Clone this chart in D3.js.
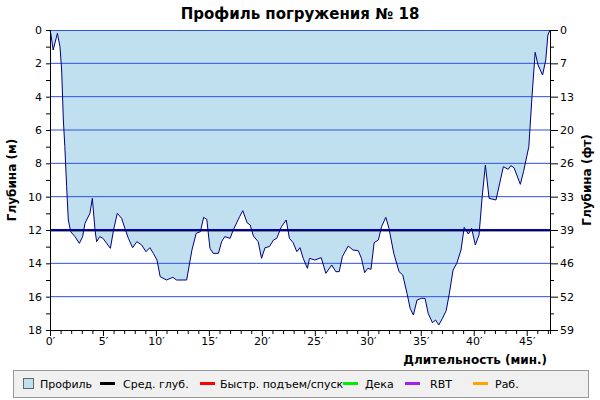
<!DOCTYPE html><html><head><meta charset="utf-8"><script src="https://cdn.jsdelivr.net/npm/d3@7"></script>
<style>body{margin:0;background:#fff}text{font-family:"DejaVu Sans",sans-serif}</style></head><body><svg id="c" width="600" height="400"></svg><script>
const times=[0,0.07,0.3,0.7,0.94,1.1,1.26,1.4,1.57,1.73,1.95,2.36,2.77,3.08,3.3,3.77,4.0,4.25,4.4,4.7,5.0,5.35,5.7,6.0,6.35,6.76,7.07,7.4,7.8,8.2,8.65,9.06,9.43,9.75,10.1,10.4,11.0,11.6,11.95,12.9,13.4,13.8,14.2,14.5,14.8,15.1,15.4,15.9,16.2,16.5,17.0,17.3,17.9,18.2,18.6,18.9,19.2,19.65,19.97,20.3,20.7,21.1,21.4,21.85,22.3,22.6,22.95,23.3,23.6,23.9,24.3,24.5,25.0,25.6,26.04,26.6,26.98,27.3,27.6,28.15,28.6,29.1,29.4,29.7,30.0,30.3,30.6,31.0,31.3,31.7,32.0,32.45,32.95,33.3,33.7,34.0,34.3,34.65,35.06,35.4,35.7,36.1,36.4,36.7,37.05,37.4,37.7,38.05,38.4,38.8,39.1,39.5,39.8,40.15,40.5,40.8,41.1,41.45,42.1,42.8,43.25,43.5,43.8,44.4,44.7,45.2,45.5,45.8,46.07,46.5,46.8,47.0,47.2];
const depths=[0,0.2,1.2,0.2,1.0,2.4,5.4,7,9.4,11.4,12.1,12.4,12.8,12.4,11.6,11,10.1,12,12.7,12.4,12.5,12.8,13.1,12,11,11.3,11.9,12.5,13.06,12.7,12.9,13.3,13.06,13.4,13.8,14.8,15,14.84,15,15,13.2,12.2,12.1,11.24,11.36,13.1,13.4,13.4,12.7,12.4,12.5,12,11.2,10.84,11.56,11.7,12.36,12.7,13.7,13.06,13,12.6,12.5,11.8,11.4,12.5,12.76,13.3,13.06,13.7,14.3,13.7,13.8,13.66,14.6,14.1,14.5,14.5,13.6,12.96,13.2,13.24,13.7,14.56,14.3,14.36,12.76,12.6,11.8,11.24,11.9,13.4,14.5,14.7,15.8,16.7,17.1,16.2,16.1,16.1,17,17.56,17.4,17.7,17.3,16.84,15.8,14.4,14,13.2,11.84,12.24,11.9,12.9,12.3,10,8.1,10.1,10.2,8.2,8.36,8.14,8.26,9.26,8.5,7.0,4.0,1.34,2.1,2.7,1.8,0.3,0];
const avgDepth=12;
const xTicks=[0,5,10,15,20,25,30,35,40,45];
const yTicks=[0,2,4,6,8,10,12,14,16,18];
const legendItems=[["Профиль","#c0e0f0","box"],["Сред. глуб.","#000","line"],["Быстр. подъем/спуск","#ff0000","line"],["Дека","#00ee00","line"],["RBT","#a020f0","line"],["Раб.","#ffa500","line"]];
const svg=d3.select("#c");
const L=50,R=550,T=30,B=330;
const x=d3.scaleLinear().domain([0,47.2]).range([L,R]);
const y=d3.scaleLinear().domain([0,18]).range([T,B]);
const pts=times.map((t,i)=>[t,depths[i]]);
svg.append("path").datum(pts).attr("fill","#c0e0f0").attr("d",d3.area().x(d=>x(d[0])).y0(y(0)).y1(d=>y(d[1])));
yTicks.forEach(v=>{if(v>0&&v<18)svg.append("line").attr("x1",L).attr("x2",R).attr("y1",y(v)).attr("y2",y(v)).attr("stroke","#3050e0").attr("stroke-width",1);});
svg.append("line").attr("x1",L).attr("x2",R).attr("y1",y(0)+0.5).attr("y2",y(0)+0.5).attr("stroke","#3050e0");
svg.append("line").attr("x1",L).attr("x2",R).attr("y1",y(avgDepth)).attr("y2",y(avgDepth)).attr("stroke","#0000cc").attr("stroke-width",2);
svg.append("line").attr("x1",L).attr("x2",R).attr("y1",y(avgDepth)+1).attr("y2",y(avgDepth)+1).attr("stroke","#000").attr("stroke-width",0.8);
svg.append("path").datum(pts).attr("fill","none").attr("stroke","#000080").attr("stroke-width",1).attr("d",d3.line().x(d=>x(d[0])).y(d=>y(d[1])));
const gl=svg.append("g").attr("transform",`translate(${L},0)`).call(d3.axisLeft(y).tickValues(d3.range(0,19,1)).tickSize(4).tickFormat(d=>yTicks.includes(d)?d:""));
const gr=svg.append("g").attr("transform",`translate(${R},0)`).call(d3.axisRight(y).tickValues(d3.range(0,19,1)).tickSize(4).tickFormat(d=>yTicks.includes(d)?Math.round(d*3.28084):""));
const gb=svg.append("g").attr("transform",`translate(0,${B})`).call(d3.axisBottom(x).tickValues(d3.range(0,48,1)).tickSize(4).tickFormat(d=>xTicks.includes(d)?d+"′":""));
gb.selectAll(".tick line").attr("y2",d=>xTicks.includes(d)?6:4);
gr.selectAll(".tick line").attr("x2",d=>yTicks.includes(d)?8:4);
[gl,gr,gb].forEach(g=>{g.selectAll("text").attr("font-size",11).attr("fill","#000").attr("font-family","DejaVu Sans");g.select(".domain").attr("stroke","#000");});
gl.selectAll("text").attr("x",-8);gr.selectAll("text").attr("x",10);
svg.append("text").attr("x",300).attr("y",19).attr("text-anchor","middle").attr("font-weight","bold").attr("font-size",15).text("Профиль погружения № 18");
svg.append("text").attr("transform","rotate(-90)").attr("x",-180).attr("y",16).attr("text-anchor","middle").attr("font-weight","bold").attr("font-size",12).text("Глубина (м)");
svg.append("text").attr("transform","rotate(-90)").attr("x",-180).attr("y",591).attr("text-anchor","middle").attr("font-weight","bold").attr("font-size",12).text("Глубина (фт)");
svg.append("text").attr("x",547).attr("y",364).attr("text-anchor","end").attr("font-weight","bold").attr("font-size",12).text("Длительность (мин.)");
svg.append("rect").attr("x",13.5).attr("y",370.5).attr("width",575).attr("height",27).attr("fill","#f0f0f0").attr("stroke","#999");
const markX=[23,100,200,343,405,473], textX=[40,123,220,365,430,495];
legendItems.forEach((it,i)=>{
if(it[2]=="box")svg.append("rect").attr("x",markX[i]+0.5).attr("y",378.5).attr("width",10).attr("height",10).attr("fill",it[1]).attr("stroke","#666");
else svg.append("rect").attr("x",markX[i]).attr("y",382).attr("width",15).attr("height",3).attr("fill",it[1]);
svg.append("text").attr("x",textX[i]).attr("y",388).attr("font-size",11).text(it[0]);});
</script></body></html>
